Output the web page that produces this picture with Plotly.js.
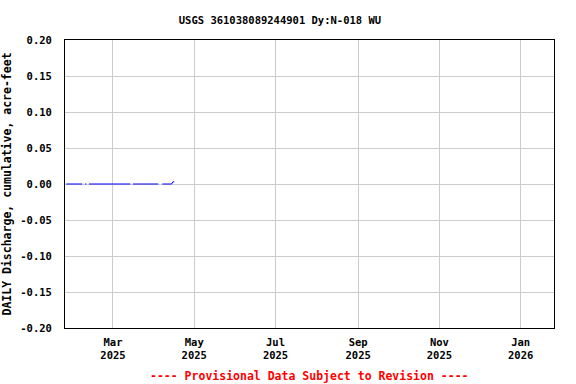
<!DOCTYPE html>
<html>
<head>
<meta charset="utf-8">
<script src="https://cdn.plot.ly/plotly-3.0.1.min.js"></script>
<style>html,body{margin:0;padding:0;background:#fff;}#chart{width:576px;height:384px;}</style>
</head>
<body>
<div id="chart"></div>
<script>
// Daily cumulative discharge (acre-feet); null = missing day (gap in line)
const dates = [
  "2025-01-25","2025-02-06","2025-02-07",
  "2025-02-08","2025-02-09","2025-02-10",
  "2025-02-11","2025-03-14","2025-03-15",
  "2025-03-16","2025-04-04","2025-04-05",
  "2025-04-07","2025-04-14","2025-04-15","2025-04-16"
];
const values = [
  0, 0, null,
  0, 0, null,
  0, 0, null,
  0, 0, null,
  0, 0, 0.003, 0.003
];
const xTickVals = ["2025-03-01","2025-05-01","2025-07-01","2025-09-01","2025-11-01","2026-01-01"];
const xTickText = ["Mar<br>2025","May<br>2025","Jul<br>2025","Sep<br>2025","Nov<br>2025","Jan<br>2026"];
const yTickVals = [-0.20,-0.15,-0.10,-0.05,0.00,0.05,0.10,0.15,0.20];
const yTickText = ["-0.20","-0.15","-0.10","-0.05","0.00","0.05","0.10","0.15","0.20"];
const titleText = "USGS 361038089244901 Dy:N-018 WU";
const yTitle = "DAILY Discharge, cumulative, acre-feet";
const noteText = "---- Provisional Data Subject to Revision ----";

const font = "DejaVu Sans Mono, monospace";
Plotly.newPlot("chart", [{
  x: dates, y: values, type: "scatter", mode: "lines",
  connectgaps: false,
  line: {color: "#0000ff", width: 1}
}], {
  width: 576, height: 384,
  margin: {l: 65, r: 22, t: 40, b: 56},
  paper_bgcolor: "#fff", plot_bgcolor: "#fff",
  showlegend: false,
  title: {text: "<b>" + titleText + "</b>", font: {family: font, size: 10.5, color: "#000"}, x: 0.486, xanchor: "center", y: 0.948, yanchor: "middle"},
  xaxis: {
    type: "date", range: ["2025-01-24", "2026-01-26"],
    tickvals: xTickVals, ticktext: xTickText.map(t => "<b>" + t + "</b>"),
    tickfont: {family: font, size: 10.5, color: "#000"},
    ticklabelstandoff: 4,
    showgrid: true, gridcolor: "#cccccc", gridwidth: 1,
    showline: true, linecolor: "#000", linewidth: 1, mirror: true,
    ticks: "", zeroline: false
  },
  yaxis: {
    range: [-0.2, 0.2],
    tickvals: yTickVals, ticktext: yTickText.map(t => "<b>" + t + "</b>"),
    tickfont: {family: font, size: 10.5, color: "#000"},
    ticklabelstandoff: 10,
    showgrid: true, gridcolor: "#cccccc", gridwidth: 1,
    showline: true, linecolor: "#000", linewidth: 1, mirror: true,
    ticks: "", zeroline: false,
    title: {text: "<b>" + yTitle + "</b>", font: {family: font, size: 11.5, color: "#000"}, standoff: 10}
  },
  annotations: [{
    text: "<b>" + noteText + "</b>", xref: "paper", yref: "paper",
    x: 0.5, y: -0.165, xanchor: "center", yanchor: "middle", showarrow: false,
    font: {family: font, size: 11.5, color: "#ff0000"}
  }]
}, {displayModeBar: false, staticPlot: true});
</script>
</body>
</html>
